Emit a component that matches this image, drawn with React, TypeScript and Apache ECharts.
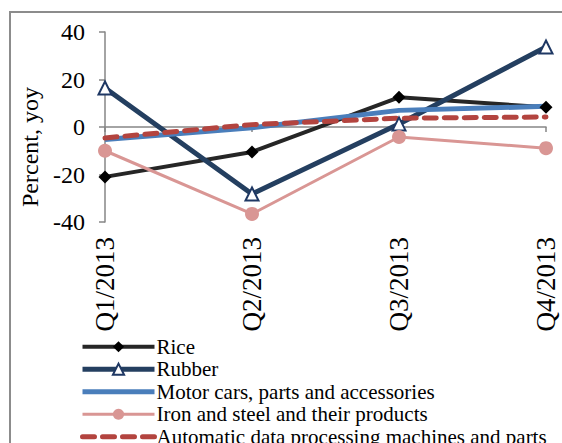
import React, { useEffect, useRef } from "react";
import * as echarts from "echarts";

const categories = ["Q1/2013", "Q2/2013", "Q3/2013", "Q4/2013"];
const rice = [-21, -10.5, 12.5, 8.3];
const rubber = [16.4, -28.2, 1.3, 33.7];
const motorCars = [-5.3, -0.3, 7, 8.7];
const ironSteel = [-10, -36.6, -4.2, -8.9];
const autoData = [-4.6, 1, 3.7, 4.2];
const yTicks = { min: -40, max: 40, interval: 20 };

const FONT = '"Liberation Serif", "Times New Roman", serif';

export default function App() {
  const ref = useRef<HTMLDivElement>(null);
  useEffect(() => {
    if (!ref.current) return;
    const chart = echarts.init(ref.current, null, { renderer: "svg" });
    chart.setOption({
      animation: false,
      backgroundColor: "#ffffff",
      graphic: [
        {
          type: "rect",
          z: -10,
          silent: true,
          shape: { x: 10, y: 12, width: 700, height: 600 },
          style: { fill: "none", stroke: "#8c8c8c", lineWidth: 2 },
        },
      ],
      grid: { left: 105, right: 16, top: 32, bottom: 221, containLabel: false },
      legend: {
        orient: "vertical",
        left: 80,
        top: 336,
        height: 200,
        padding: 0,
        itemWidth: 72,
        itemHeight: 14,
        itemGap: 1,
        lineStyle: { width: "inherit" },
        textStyle: { fontFamily: FONT, fontSize: 21, color: "#000", lineHeight: 21.5, padding: [0, 0, 0, -3] },
        data: [
          "Rice",
          "Rubber",
          "Motor cars, parts and accessories",
          "Iron and steel and their products",
          "Automatic data processing machines and parts",
        ],
      },
      xAxis: {
        type: "category",
        data: categories,
        boundaryGap: false,
        axisLine: { onZero: true, lineStyle: { color: "#868686", width: 1.5 } },
        axisTick: { show: true, length: 5, lineStyle: { color: "#868686", width: 1.5 } },
        axisLabel: { rotate: 90, margin: 15, fontFamily: FONT, fontSize: 27, color: "#000" },
      },
      yAxis: {
        type: "value",
        min: yTicks.min,
        max: yTicks.max,
        interval: yTicks.interval,
        name: "Percent, yoy",
        nameLocation: "middle",
        nameRotate: 90,
        nameGap: 60,
        nameTextStyle: { fontFamily: FONT, fontSize: 24, color: "#000", padding: [0, 40, 0, 0] },
        axisLine: { show: true, lineStyle: { color: "#868686", width: 1.5 } },
        axisTick: { show: true, length: 6, lineStyle: { color: "#868686", width: 1.5 } },
        splitLine: { show: false },
        axisLabel: { margin: 20, fontFamily: FONT, fontSize: 24, color: "#000" },
      },
      series: [
        {
          name: "Rice",
          type: "line",
          data: rice,
          symbol: "diamond",
          symbolSize: 13,
          lineStyle: { color: "#262626", width: 4 },
          itemStyle: { color: "#000" },
        },
        {
          name: "Rubber",
          type: "line",
          data: rubber,
          symbol: "triangle",
          symbolSize: 13,
          lineStyle: { color: "#243F60", width: 5 },
          itemStyle: { color: "#ffffff", borderColor: "#1F3864", borderWidth: 2 },
        },
        {
          name: "Motor cars, parts and accessories",
          type: "line",
          data: motorCars,
          symbol: "circle",
          showSymbol: false,
          lineStyle: { color: "#4A7EBB", width: 5 },
          itemStyle: { color: "#4A7EBB", opacity: 0 },
        },
        {
          name: "Iron and steel and their products",
          type: "line",
          data: ironSteel,
          symbol: "circle",
          symbolSize: 14,
          lineStyle: { color: "#D99694", width: 3 },
          itemStyle: { color: "#D99694" },
        },
        {
          name: "Automatic data processing machines and parts",
          type: "line",
          data: autoData,
          symbol: "circle",
          showSymbol: false,
          lineStyle: { color: "#B3443F", width: 5, type: [12, 8], cap: "round" },
          itemStyle: { color: "#B3443F", opacity: 0 },
        },
      ],
    });
    return () => chart.dispose();
  }, []);
  return (
    <div
      ref={ref}
      style={{ position: "fixed", left: 0, top: 0, width: 562, height: 443 }}
    />
  );
}
